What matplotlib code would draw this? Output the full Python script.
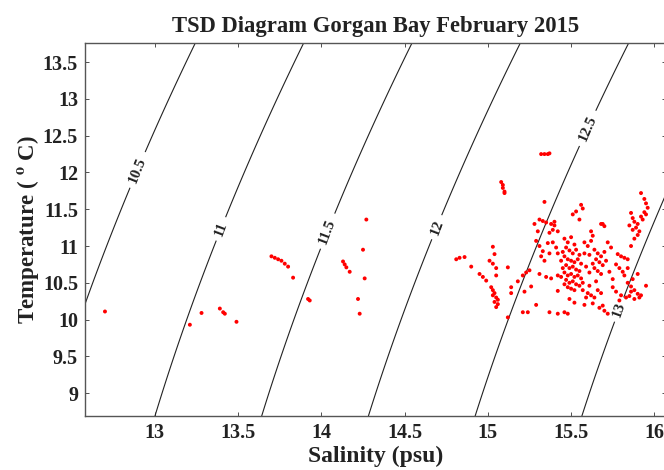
import numpy as np
import matplotlib
matplotlib.use("Agg")
import matplotlib.pyplot as plt

plt.rcParams['font.family'] = ['Liberation Serif', 'DejaVu Serif']
plt.rcParams['font.weight'] = 'bold'
plt.rcParams['mathtext.fontset'] = 'stix'

title = "TSD Diagram Gorgan Bay February 2015"
xlabel = "Salinity (psu)"
ylabel = r"Temperature ( $^{\mathbf{o}}$ C)"

x_ticks = [13, 13.5, 14, 14.5, 15, 15.5, 16]
x_tick_labels = ["13", "13.5", "14", "14.5", "15", "15.5", "16"]
y_ticks = [9, 9.5, 10, 10.5, 11, 11.5, 12, 12.5, 13, 13.5]
y_tick_labels = ["9", "9.5", "10", "10.5", "11", "11.5", "12", "12.5", "13", "13.5"]

# density (sigma) contour levels and the offset used for Caspian water
sigma_levels = [10.5, 11, 11.5, 12, 12.5, 13]
sigma_offset = 1.02
label_pos = [(12.89, 12.04), (13.40, 11.23), (14.04, 11.2), (14.70, 11.25),
             (15.61, 12.59), (15.81, 10.12)]

# observed salinity / temperature
salinity = [
    12.70, 13.21, 13.28, 13.39, 13.41, 13.42, 13.49,
    13.70, 13.72, 13.74, 13.76, 13.78, 13.80, 13.83,
    13.92, 13.93,
    14.13, 14.14, 14.15, 14.17,
    14.27, 14.25, 14.26, 14.22, 14.23,
    15.32, 15.34, 15.36, 15.37,
    15.08, 15.09, 15.09, 15.10, 15.10,
    14.81, 14.83, 14.86, 14.90, 15.03, 15.04,
    15.01, 15.03, 15.05,
    14.95, 14.97, 14.99,
    15.02, 15.03, 15.04, 15.05, 15.04, 15.06, 15.05, 15.03, 15.06,
    15.05, 15.12, 15.14, 15.14,
    15.21, 15.23, 15.25, 15.22,
    15.21, 15.24, 15.29, 15.12, 15.37, 15.42,
    15.18, 15.26,
    15.34, 15.31, 15.33, 15.35, 15.38, 15.40, 15.39, 15.37,
    15.29, 15.31, 15.33, 15.32, 15.34,
    15.36, 15.39, 15.41, 15.42, 15.37,
    15.31, 15.35, 15.38, 15.42, 15.42,
    15.40, 15.42, 15.30, 15.28,
    15.46, 15.48, 15.50, 15.52, 15.47, 15.49, 15.51, 15.53, 15.55,
    15.46, 15.48, 15.50, 15.52, 15.54, 15.56, 15.47, 15.49, 15.51, 15.53, 15.55,
    15.46, 15.48, 15.50, 15.52, 15.54, 15.56, 15.47, 15.49, 15.51, 15.53, 15.55, 15.57,
    15.48, 15.50, 15.52, 15.45, 15.44, 15.45, 15.44, 15.46,
    15.49, 15.52, 15.46, 15.48,
    15.56, 15.51, 15.53, 15.55, 15.57, 15.58, 15.58, 15.59,
    15.62, 15.63, 15.62, 15.68, 15.70, 15.69,
    15.64, 15.66, 15.68, 15.65, 15.67, 15.69, 15.64, 15.66, 15.68, 15.61, 15.63, 15.61, 15.70, 15.71,
    15.57, 15.60, 15.62, 15.64, 15.59, 15.66, 15.68, 15.61, 15.65, 15.58, 15.63, 15.69,
    15.67, 15.70, 15.72, 15.60, 15.72, 15.74, 15.73, 15.75,
    15.78, 15.80, 15.82, 15.84, 15.77, 15.79, 15.81, 15.82, 15.84,
    15.84, 15.86, 15.88, 15.90, 15.91, 15.88, 15.85, 15.83, 15.86, 15.95, 15.86,
    15.75, 15.77, 15.80, 15.79, 15.92, 15.87, 15.90,
    15.92, 15.94, 15.95, 15.96, 15.94, 15.95,
    15.86, 15.87, 15.88, 15.90, 15.89, 15.87, 15.91, 15.85, 15.93, 15.92, 15.90, 15.88,
]
temperature = [
    10.11, 9.93, 10.09, 10.15, 10.10, 10.08, 9.97,
    10.86, 10.84, 10.82, 10.80, 10.76, 10.72, 10.57,
    10.28, 10.26,
    10.79, 10.75, 10.71, 10.65,
    11.36, 10.95, 10.56, 10.28, 10.08,
    12.25, 12.25, 12.25, 12.26,
    11.87, 11.83, 11.79, 11.74, 11.72,
    10.82, 10.84, 10.85, 10.72, 10.99, 10.89,
    10.80, 10.76, 10.70,
    10.62, 10.58, 10.53,
    10.44, 10.40, 10.36, 10.30, 10.24, 10.21, 10.17, 10.33, 10.27,
    10.60, 10.71, 10.44, 10.36,
    10.60, 10.64, 10.67, 10.38,
    10.10, 10.10, 10.20, 10.03, 10.10, 10.08,
    10.52, 10.45,
    11.60, 11.36, 11.34, 11.32, 11.30, 11.28, 11.22, 11.18,
    11.07, 11.00, 10.93, 10.86, 10.80,
    11.04, 11.05, 10.98, 10.90, 10.90,
    10.62, 10.58, 10.56, 10.60, 10.39,
    11.33, 11.20, 11.20, 11.30,
    11.10, 11.05, 11.12, 11.02, 10.98, 10.94, 10.90, 10.95, 10.88,
    10.86, 10.82, 10.80, 10.78, 10.82, 10.76, 10.74, 10.70, 10.72, 10.68, 10.66,
    10.64, 10.60, 10.62, 10.58, 10.60, 10.56, 10.54, 10.50, 10.52, 10.48, 10.46, 10.50,
    10.44, 10.42, 10.40, 10.92, 10.80, 10.70, 10.58, 10.48,
    10.28, 10.23, 10.10, 10.08,
    11.56, 11.43, 11.47, 11.36, 11.51, 11.05, 10.90, 10.72,
    11.20, 11.14, 11.07, 11.30, 11.27, 11.30,
    10.95, 10.90, 10.86, 10.82, 10.78, 10.74, 10.70, 10.66, 10.62, 10.88, 10.76, 10.64, 10.92, 10.80,
    10.40, 10.36, 10.33, 10.30, 10.30, 10.40, 10.36, 10.46, 10.52, 10.20, 10.22, 10.19,
    10.16, 10.12, 10.08, 11.00, 11.05, 10.98, 10.65, 10.55,
    10.89, 10.86, 10.84, 10.82, 10.75, 10.70, 10.65, 10.60, 10.70,
    10.50, 10.45, 10.40, 10.35, 10.30, 10.28, 10.32, 10.30, 10.38, 10.46, 11.00,
    10.44, 10.38, 10.33, 10.26, 10.33, 10.55, 10.62,
    11.72, 11.64, 11.58, 11.52, 11.46, 11.43,
    11.45, 11.38, 11.33, 11.30, 11.25, 11.22, 11.20, 11.28, 11.36, 11.40, 11.15, 11.10,
]

xlim = (12.58, 16.07)
ylim = (8.69, 13.76)


def sigma_unesco(S, T):
    """One-atmosphere UNESCO 1980 density anomaly (kg/m^3)."""
    rho_w = (999.842594 + 6.793952e-2 * T - 9.095290e-3 * T**2
             + 1.001685e-4 * T**3 - 1.120083e-6 * T**4 + 6.536332e-9 * T**5)
    A = (8.24493e-1 - 4.0899e-3 * T + 7.6438e-5 * T**2
         - 8.2467e-7 * T**3 + 5.3875e-9 * T**4)
    B = -5.72466e-3 + 1.0227e-4 * T - 1.6546e-6 * T**2
    C = 4.8314e-4
    return rho_w + A * S + B * S**1.5 + C * S**2 - 1000.0


fig = plt.figure(figsize=(6.64, 4.70), dpi=100)
ax = fig.add_axes([0.128, 0.115, 0.875, 0.7935])

Sg, Tg = np.meshgrid(np.linspace(12.3, 16.4, 300), np.linspace(8.4, 14.0, 300))
D = sigma_unesco(Sg, Tg) + sigma_offset
cs = ax.contour(Sg, Tg, D, levels=sigma_levels, colors='#222222', linewidths=0.8)
labels = ax.clabel(cs, fmt=lambda v: f"{v:g}", manual=label_pos, inline=True,
                   inline_spacing=4, fontsize=11)
for t in labels:
    t.set_fontweight('bold')
    t.set_family('Liberation Serif')

ax.scatter(salinity, temperature, s=8, c='red', edgecolors='none', zorder=3)

ax.set_xlim(*xlim)
ax.set_ylim(*ylim)
ax.set_xticks(x_ticks)
ax.set_xticklabels(x_tick_labels)
ax.set_yticks(y_ticks)
ax.set_yticklabels(y_tick_labels)
ax.tick_params(direction='in', length=3, width=0.6, top=True, right=True,
               labelsize=14.5, colors='#333333', labelcolor='#222222', pad=5)
for sp in ax.spines.values():
    sp.set_color('#555555')
    sp.set_linewidth(1.0)

ax.set_title(title, fontsize=16.3, fontweight='bold', pad=8, color='#222222')
ax.set_xlabel(xlabel, fontsize=17, fontweight='bold', labelpad=2, color='#222222')
ax.set_ylabel(ylabel, fontsize=16.5, fontweight='bold', labelpad=1, color='#222222')

fig.savefig("out.png", dpi=100)
